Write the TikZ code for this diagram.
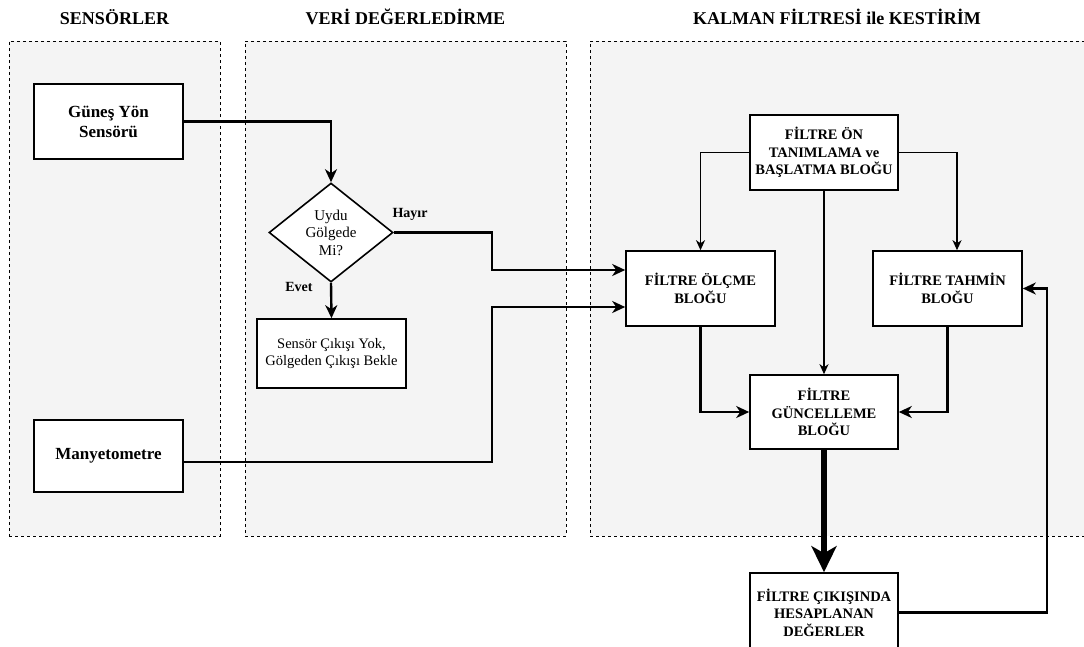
\documentclass[tikz,border=0pt]{standalone}
\usepackage{fontspec}
\setmainfont{Liberation Serif}
\usetikzlibrary{arrows.meta,positioning,calc,shapes.geometric}
\definecolor{KfPanel}{RGB}{244,244,244}
\definecolor{KfInk}{RGB}{0,0,0}
\tikzset{
  kf/panel/.style={
    draw=KfInk,
    line width=0.9pt,
    dash pattern=on 3pt off 3pt,
    fill=KfPanel,
    inner sep=0pt
  },
  kf/box/.style={
    draw=KfInk,
    line width=1.6pt,
    fill=white,
    align=center,
    text=KfInk,
    inner sep=0pt,
    minimum width=149pt,
    minimum height=75pt,
    font=\bfseries\fontsize{17}{20}\selectfont
  },
  kf/kbox/.style={
    kf/box,
    font=\bfseries\fontsize{14.5}{17.5}\selectfont
  },
  kf/plain/.style={
    kf/box,
    font=\fontsize{14.5}{17.3}\selectfont
  },
  kf/decision/.style={
    diamond,
    draw=KfInk,
    line width=1.6pt,
    fill=white,
    align=center,
    inner sep=0pt,
    minimum width=124pt,
    minimum height=99pt,
    font=\fontsize{15}{17.5}\selectfont
  },
  kf/arrow/.style={-{Stealth[length=13pt,width=12pt,inset=4pt]}, line width=2.4pt, draw=KfInk},
  kf/thinarrow/.style={-{Stealth[length=10pt,width=9pt,inset=3pt]}, line width=1.4pt, draw=KfInk},
  kf/bigarrow/.style={-{Stealth[length=26pt,width=25pt,inset=7pt]}, line width=6pt, draw=KfInk},
  kf/title/.style={font=\bfseries\fontsize{18}{20}\selectfont, text=KfInk, align=center},
  kf/tag/.style={font=\bfseries\fontsize{14}{16}\selectfont, text=KfInk}
}

\begin{document}
\begin{tikzpicture}[x=1pt,y=-1pt]
  \useasboundingbox (0,0) rectangle (1084,646);
  \fill[white] (0,0) rectangle (1084,646);

  % panels and their titles
  \node[kf/panel,minimum width=211pt,minimum height=495pt] (sensp) at (114.5,288.5) {};
  \node[kf/panel,minimum width=321pt,minimum height=495pt] (verip) at (405.5,288.5) {};
  \node[kf/panel,minimum width=498pt,minimum height=495pt] (kalmanp) at (839,288.5) {};
  \node[kf/title,above=12pt of sensp.north] (senst) {SENSÖRLER};
  \node[kf/title,above=12pt of verip.north] (verit) {VERİ DEĞERLEDİRME};
  \node[kf/title,above=12pt of kalmanp.north,xshift=-2pt] (kalmant) {KALMAN FİLTRESİ ile KESTİRİM};

  % sensors
  \node[kf/box] (gunes) at (108.5,121.5) {Güneş Yön\\Sensörü};
  \node[kf/box,minimum height=72pt] (manyeto) at (108.5,456) {Manyetometre};

  % data check
  \node[kf/decision] (karar) at (331,232.5) {Uydu\\Gölgede\\Mi?};
  \node[kf/plain,minimum height=69pt] (bekle) at (331.5,353.5) {Sensör Çıkışı Yok,\\Gölgeden Çıkışı Bekle};
  \node[kf/tag] (hayir) at (410,214) {Hayır};
  \node[kf/tag] (evet) at (299,287) {Evet};

  % kalman blocks
  \node[kf/kbox,minimum width=148pt] (on) at (824,152.5) {FİLTRE ÖN\\TANIMLAMA ve\\BAŞLATMA BLOĞU};
  \node[kf/kbox] (olcme) at (700.5,288.5) {FİLTRE ÖLÇME\\BLOĞU};
  \node[kf/kbox] (tahmin) at (947.5,288.5) {FİLTRE TAHMİN\\BLOĞU};
  \node[kf/kbox,minimum width=148pt,minimum height=74pt] (guncel) at (824,412) {FİLTRE\\GÜNCELLEME\\BLOĞU};
  \node[kf/kbox,minimum width=148pt,minimum height=79pt] (cikis) at (824,612.5) {FİLTRE ÇIKIŞINDA\\HESAPLANAN\\DEĞERLER};

  \coordinate (bus) at (492,0);
  \coordinate (geri) at (1047,0);
  \coordinate (olcmeA) at ($(olcme.west)+(0,-18.5)$);
  \coordinate (olcmeB) at ($(olcme.west)+(0,18.5)$);
  \coordinate (manyetoR) at ($(manyeto.east)+(0,6)$);

  \draw[kf/arrow] (gunes.east) -| (karar.north);
  \draw[kf/arrow] (karar.east) -- (bus |- karar.east) |- (olcmeA);
  \draw[kf/arrow] (karar.south) -- (bekle.north);
  \draw[kf/arrow] (manyetoR) -- (bus |- manyetoR) |- (olcmeB);

  \draw[kf/thinarrow] (on.west) -| (olcme.north);
  \draw[kf/thinarrow] (on.east) -| ($(tahmin.north)+(9.5,0)$);
  \draw[kf/thinarrow] (on.south) -- (guncel.north);
  \draw[kf/arrow] (olcme.south) |- (guncel.west);
  \draw[kf/arrow] (tahmin.south) |- (guncel.east);
  \draw[kf/bigarrow] (guncel.south) -- (cikis.north);
  \draw[kf/arrow] (cikis.east) -- (geri |- cikis.east) |- (tahmin.east);
\end{tikzpicture}
\end{document}
